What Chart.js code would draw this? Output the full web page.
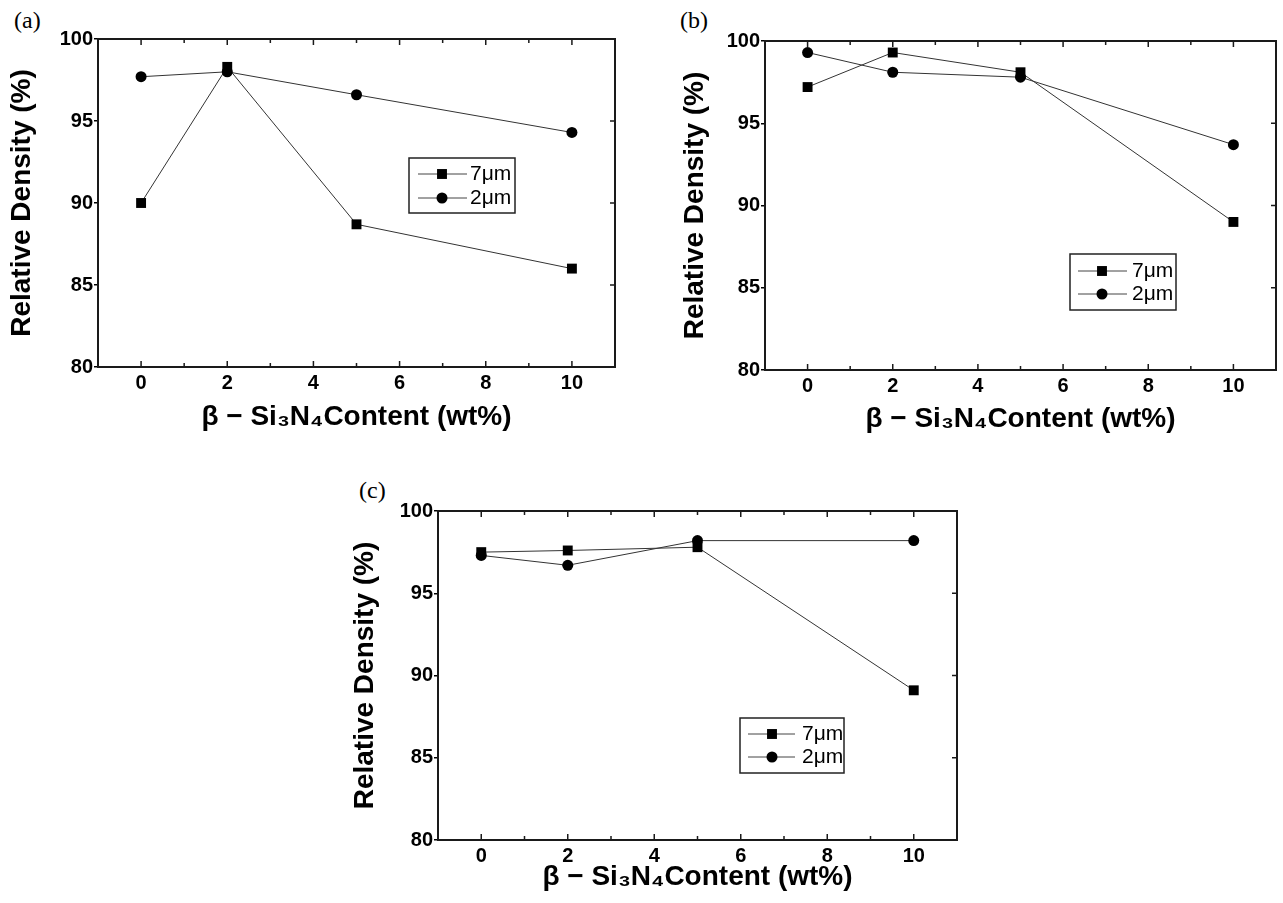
<!DOCTYPE html>
<html><head><meta charset="utf-8">
<script src="https://cdn.jsdelivr.net/npm/chart.js@4.4.1/dist/chart.umd.min.js"></script>
<style>
html,body{margin:0;padding:0;background:#fff;width:1283px;height:903px;overflow:hidden;position:relative}
canvas{position:absolute}
.lbl{position:absolute;font-family:'Liberation Serif','Times New Roman',serif;font-size:24px;line-height:1;color:#000}
</style></head><body>
<div class="lbl" style="left:14px;top:8px">(a)</div>
<div class="lbl" style="left:680px;top:8px">(b)</div>
<div class="lbl" style="left:359px;top:478px">(c)</div>
<canvas id="ca" width="640" height="440" style="left:0;top:0"></canvas>
<canvas id="cb" width="623" height="440" style="left:660px;top:0"></canvas>
<canvas id="cc" width="640" height="433" style="left:340px;top:470px"></canvas>
<script>
const xValues = [0, 2, 5, 10];
const seriesLabels = ['7μm', '2μm'];
const a7 = [90.0, 98.3, 88.7, 86.0];
const a2 = [97.7, 98.0, 96.6, 94.3];
const b7 = [97.2, 99.3, 98.1, 89.0];
const b2 = [99.3, 98.1, 97.8, 93.7];
const c7 = [97.5, 97.6, 97.8, 89.1];
const c2 = [97.3, 96.7, 98.2, 98.2];
const xMajorTicks = [0, 2, 4, 6, 8, 10];
const xMinorTicks = [1, 3, 5, 7, 9];
const yTicks = [80, 85, 90, 95, 100];
const xLabel = 'β − Si₃N₄Content (wt%)';
const yLabel = 'Relative Density (%)';

Chart.defaults.font.family = "'Liberation Sans', Arial, sans-serif";
Chart.defaults.color = '#000';

const framePlugin = {
  id: 'frame',
  afterDatasetsDraw(chart) {
    const {ctx, chartArea: ca, scales: {x, y}} = chart;
    ctx.save();
    ctx.strokeStyle = '#1a1a1a';
    ctx.lineWidth = 1.5;
    ctx.beginPath();
    xMajorTicks.forEach(v => {
      const px = x.getPixelForValue(v);
      ctx.moveTo(px, ca.bottom); ctx.lineTo(px, ca.bottom - 6);
      ctx.moveTo(px, ca.top); ctx.lineTo(px, ca.top + 6);
    });
    xMinorTicks.forEach(v => {
      const px = x.getPixelForValue(v);
      ctx.moveTo(px, ca.bottom); ctx.lineTo(px, ca.bottom - 4);
      ctx.moveTo(px, ca.top); ctx.lineTo(px, ca.top + 4);
    });
    yTicks.forEach(v => {
      const py = y.getPixelForValue(v);
      ctx.moveTo(ca.right, py); ctx.lineTo(ca.right - 5, py);
    });
    ctx.stroke();
    ctx.lineWidth = 2;
    ctx.strokeRect(ca.left, ca.top, ca.right - ca.left, ca.bottom - ca.top);
    ctx.restore();
  }
};

const boxLegendPlugin = {
  id: 'boxLegend',
  afterDraw(chart, args, opts) {
    const ctx = chart.ctx;
    ctx.save();
    ctx.lineWidth = 1.5; ctx.strokeStyle = '#222';
    ctx.strokeRect(opts.left, opts.top, opts.width, opts.height);
    chart.data.datasets.forEach((ds, i) => {
      const yy = opts.rows[i];
      ctx.strokeStyle = '#444'; ctx.lineWidth = 1;
      ctx.beginPath(); ctx.moveTo(opts.lineX1, yy); ctx.lineTo(opts.lineX2, yy); ctx.stroke();
      ctx.fillStyle = '#000';
      if (ds.pointStyle === 'rect') {
        const s = ds.pointRadius * Math.SQRT1_2;
        ctx.fillRect(opts.markerX - s, yy - s, 2 * s, 2 * s);
      } else {
        ctx.beginPath(); ctx.arc(opts.markerX, yy, ds.pointRadius, 0, Math.PI * 2); ctx.fill();
      }
      ctx.font = "21px 'Liberation Sans', Arial, sans-serif";
      ctx.textBaseline = 'middle'; ctx.textAlign = 'left';
      ctx.fillText(ds.label, opts.textX, yy);
    });
    ctx.restore();
  }
};

function makeChart(id, d7, d2, cfg) {
  const mk = arr => xValues.map((x, i) => ({x: x, y: arr[i]}));
  return new Chart(document.getElementById(id), {
    type: 'line',
    data: { datasets: [
      { label: seriesLabels[0], data: mk(d7), pointStyle: 'rect', pointRadius: 7, borderColor: '#333', borderWidth: 1,
        backgroundColor: '#000', pointBackgroundColor: '#000', pointBorderColor: '#000', pointBorderWidth: 0, order: 2, clip: false },
      { label: seriesLabels[1], data: mk(d2), pointStyle: 'circle', pointRadius: 5.5, borderColor: '#333', borderWidth: 1,
        backgroundColor: '#000', pointBackgroundColor: '#000', pointBorderColor: '#000', pointBorderWidth: 0, order: 1, clip: false }
    ]},
    options: {
      responsive: false, animation: false, devicePixelRatio: 1,
      layout: { padding: cfg.padding },
      plugins: { legend: { display: false }, tooltip: { enabled: false }, boxLegend: cfg.legend },
      scales: {
        x: {
          type: 'linear', min: -1, max: 11,
          afterBuildTicks: s => { s.ticks = xMajorTicks.map(v => ({value: v})); },
          afterFit: s => { s.height = cfg.xH; },
          grid: { display: false, drawTicks: false }, border: { display: false },
          ticks: { font: { size: 20, weight: 'bold' }, color: '#000', padding: 4, maxRotation: 0, autoSkip: false },
          title: { display: true, text: xLabel, font: { size: 28, weight: 'bold' }, color: '#000', padding: { top: 0, bottom: cfg.xtPad } }
        },
        y: {
          type: 'linear', min: 80, max: 100,
          afterBuildTicks: s => { s.ticks = yTicks.map(v => ({value: v})); },
          afterFit: s => { s.width = cfg.yW; },
          grid: { drawOnChartArea: false, drawTicks: true, tickLength: 4, color: '#000', lineWidth: 1.5 },
          border: { display: false },
          ticks: { font: { size: 20, weight: 'bold' }, color: '#000', padding: 1 },
          title: { display: true, text: yLabel, font: { size: 28, weight: 'bold' }, color: '#000', padding: { top: cfg.ytPad, bottom: 0 } }
        }
      }
    },
    plugins: [framePlugin, boxLegendPlugin]
  });
}

makeChart('ca', a7, a2, {
  padding: { left: 0, top: 39, right: 25, bottom: 0 }, yW: 98, xH: 73, xtPad: 6, ytPad: 5,
  legend: { left: 409, top: 158, width: 106, height: 55, rows: [174, 198], lineX1: 418, lineX2: 467, markerX: 442, textX: 470 }
});
makeChart('cb', b7, b2, {
  padding: { left: 0, top: 41, right: 1, bottom: 0 }, yW: 105, xH: 70, xtPad: 4, ytPad: 18,
  legend: { left: 410, top: 254, width: 106, height: 56, rows: [271, 294], lineX1: 418, lineX2: 467, markerX: 442, textX: 472 }
});
makeChart('cc', c7, c2, {
  padding: { left: 0, top: 41, right: 23, bottom: 0 }, yW: 98, xH: 63, xtPad: 9, ytPad: 8,
  legend: { left: 400, top: 248, width: 104, height: 55, rows: [264, 287], lineX1: 408, lineX2: 455, markerX: 432, textX: 462 }
});
</script>
</body></html>
